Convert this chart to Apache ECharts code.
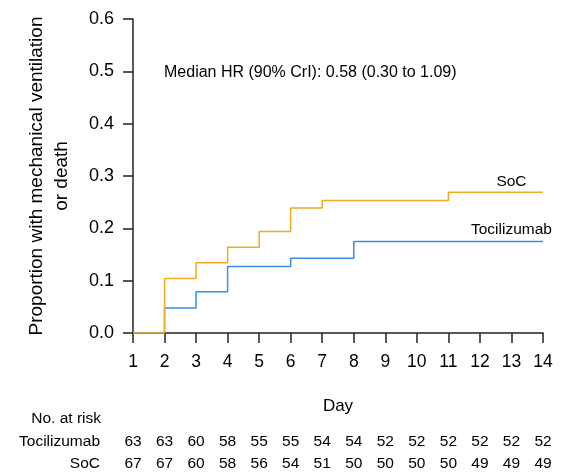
<!DOCTYPE html>
<html>
<head>
<meta charset="utf-8">
<script src="https://cdn.jsdelivr.net/npm/echarts@6/dist/echarts.min.js"></script>
<style>html,body{margin:0;padding:0;background:#fff}#c{width:581px;height:475px}</style>
</head>
<body>
<div id="c"></div>
<script>
var days = [1,2,3,4,5,6,7,8,9,10,11,12,13,14];
var socValues = [0, 0.104, 0.134, 0.164, 0.194, 0.239, 0.253, 0.253, 0.253, 0.253, 0.269, 0.269, 0.269, 0.269];
var tociValues = [0, 0.048, 0.079, 0.127, 0.127, 0.143, 0.143, 0.175, 0.175, 0.175, 0.175, 0.175, 0.175, 0.175];
var tociAtRisk = [63,63,60,58,55,55,54,54,52,52,52,52,52,52];
var socAtRisk = [67,67,60,58,56,54,51,50,50,50,50,49,49,49];
var riskRows = ['SoC', 'Tocilizumab'];
var yTicks = [0, 0.1, 0.2, 0.3, 0.4, 0.5, 0.6];
var annotation = 'Median HR (90% CrI): 0.58 (0.30 to 1.09)';
var labelDay = 13;

var FONT = 'Liberation Sans, Arial, Helvetica, sans-serif';
var AX = '#222';
var ORANGE = '#EFAA22';
var BLUE = '#3A8EEA';

function pairs(vals){ return days.map(function(d,i){ return [d, vals[i]]; }); }
function riskData(vals, row){ return days.map(function(d,i){ return [d, row, vals[i]]; }); }

var chart = echarts.init(document.getElementById('c'), null, {renderer:'canvas'});
chart.setOption({
  animation: false,
  backgroundColor: '#fff',
  grid: [
    {left: 133, right: 38, top: 19, bottom: 142},
    {left: 133, right: 38, top: 430.5, height: 44.6}
  ],
  xAxis: [
    {
      gridIndex: 0, type: 'value', min: 1, max: 14, interval: 1,
      name: 'Day', nameLocation: 'middle', nameGap: 65,
      nameTextStyle: {fontFamily: FONT, fontSize: 17, color: '#000'},
      axisLine: {show: true, onZero: false, lineStyle: {color: AX, width: 1.5}},
      axisTick: {show: true, length: 10, lineStyle: {color: AX, width: 1.5}},
      axisLabel: {fontFamily: FONT, fontSize: 17.5, color: '#000', margin: 20},
      splitLine: {show: false}
    },
    {
      gridIndex: 1, type: 'value', min: 1, max: 14, interval: 1, show: false
    }
  ],
  yAxis: [
    {
      gridIndex: 0, type: 'value', min: 0, max: 0.6, interval: 0.1,
      name: 'Proportion with mechanical ventilation\nor death',
      nameLocation: 'middle', nameGap: 58,
      nameTextStyle: {fontFamily: FONT, fontSize: 19, color: '#000', lineHeight: 25.5, align: 'center'},
      axisLine: {show: true, lineStyle: {color: AX, width: 1.5}},
      axisTick: {show: true, length: 10, lineStyle: {color: AX, width: 1.5}},
      axisLabel: {fontFamily: FONT, fontSize: 18, color: '#000', margin: 19,
        formatter: function(v){ return v.toFixed(1); }},
      splitLine: {show: false}
    },
    {
      gridIndex: 1, type: 'category', data: riskRows,
      axisLine: {show: false}, axisTick: {show: false},
      axisLabel: {fontFamily: FONT, fontSize: 15.5, color: '#000', margin: 33},
      splitLine: {show: false}
    }
  ],
  series: [
    {
      name: 'Tocilizumab', type: 'line', step: 'end', xAxisIndex: 0, yAxisIndex: 0,
      data: pairs(tociValues), showSymbol: false, symbol: 'none',
      lineStyle: {color: BLUE, width: 1.5}, itemStyle: {color: BLUE},
      markPoint: {
        symbol: 'circle', symbolSize: 1, itemStyle: {color: 'rgba(0,0,0,0)'},
        label: {show: true, position: 'top', distance: 3, formatter: 'Tocilizumab',
          fontFamily: FONT, fontSize: 15.5, color: '#000'},
        data: [{coord: [labelDay, tociValues[labelDay-1]]}]
      }
    },
    {
      name: 'SoC', type: 'line', step: 'end', xAxisIndex: 0, yAxisIndex: 0,
      data: pairs(socValues), showSymbol: false, symbol: 'none',
      lineStyle: {color: ORANGE, width: 1.5}, itemStyle: {color: ORANGE},
      markPoint: {
        symbol: 'circle', symbolSize: 1, itemStyle: {color: 'rgba(0,0,0,0)'},
        label: {show: true, position: 'top', distance: 2, formatter: 'SoC',
          fontFamily: FONT, fontSize: 15.5, color: '#000'},
        data: [{coord: [labelDay, socValues[labelDay-1]]}]
      }
    },
    {
      name: 'riskToci', type: 'scatter', xAxisIndex: 1, yAxisIndex: 1,
      data: riskData(tociAtRisk, 'Tocilizumab'), symbolSize: 0,
      itemStyle: {color: 'rgba(0,0,0,0)', opacity: 1},
      label: {show: true, position: 'inside', fontFamily: FONT, fontSize: 15.5, color: '#000', opacity: 1,
        formatter: function(p){ return String(p.value[2]); }}
    },
    {
      name: 'riskSoc', type: 'scatter', xAxisIndex: 1, yAxisIndex: 1,
      data: riskData(socAtRisk, 'SoC'), symbolSize: 0,
      itemStyle: {color: 'rgba(0,0,0,0)', opacity: 1},
      label: {show: true, position: 'inside', fontFamily: FONT, fontSize: 15.5, color: '#000', opacity: 1,
        formatter: function(p){ return String(p.value[2]); }}
    }
  ],
  graphic: [
    {type: 'text', left: 164, top: 65,
      style: {text: annotation, fontFamily: FONT, fontSize: 16, fill: '#000'}},
    {type: 'text', right: 480, top: 411,
      style: {text: 'No. at risk', fontFamily: FONT, fontSize: 15.5, fill: '#000'}}
  ]
});
</script>
</body>
</html>
